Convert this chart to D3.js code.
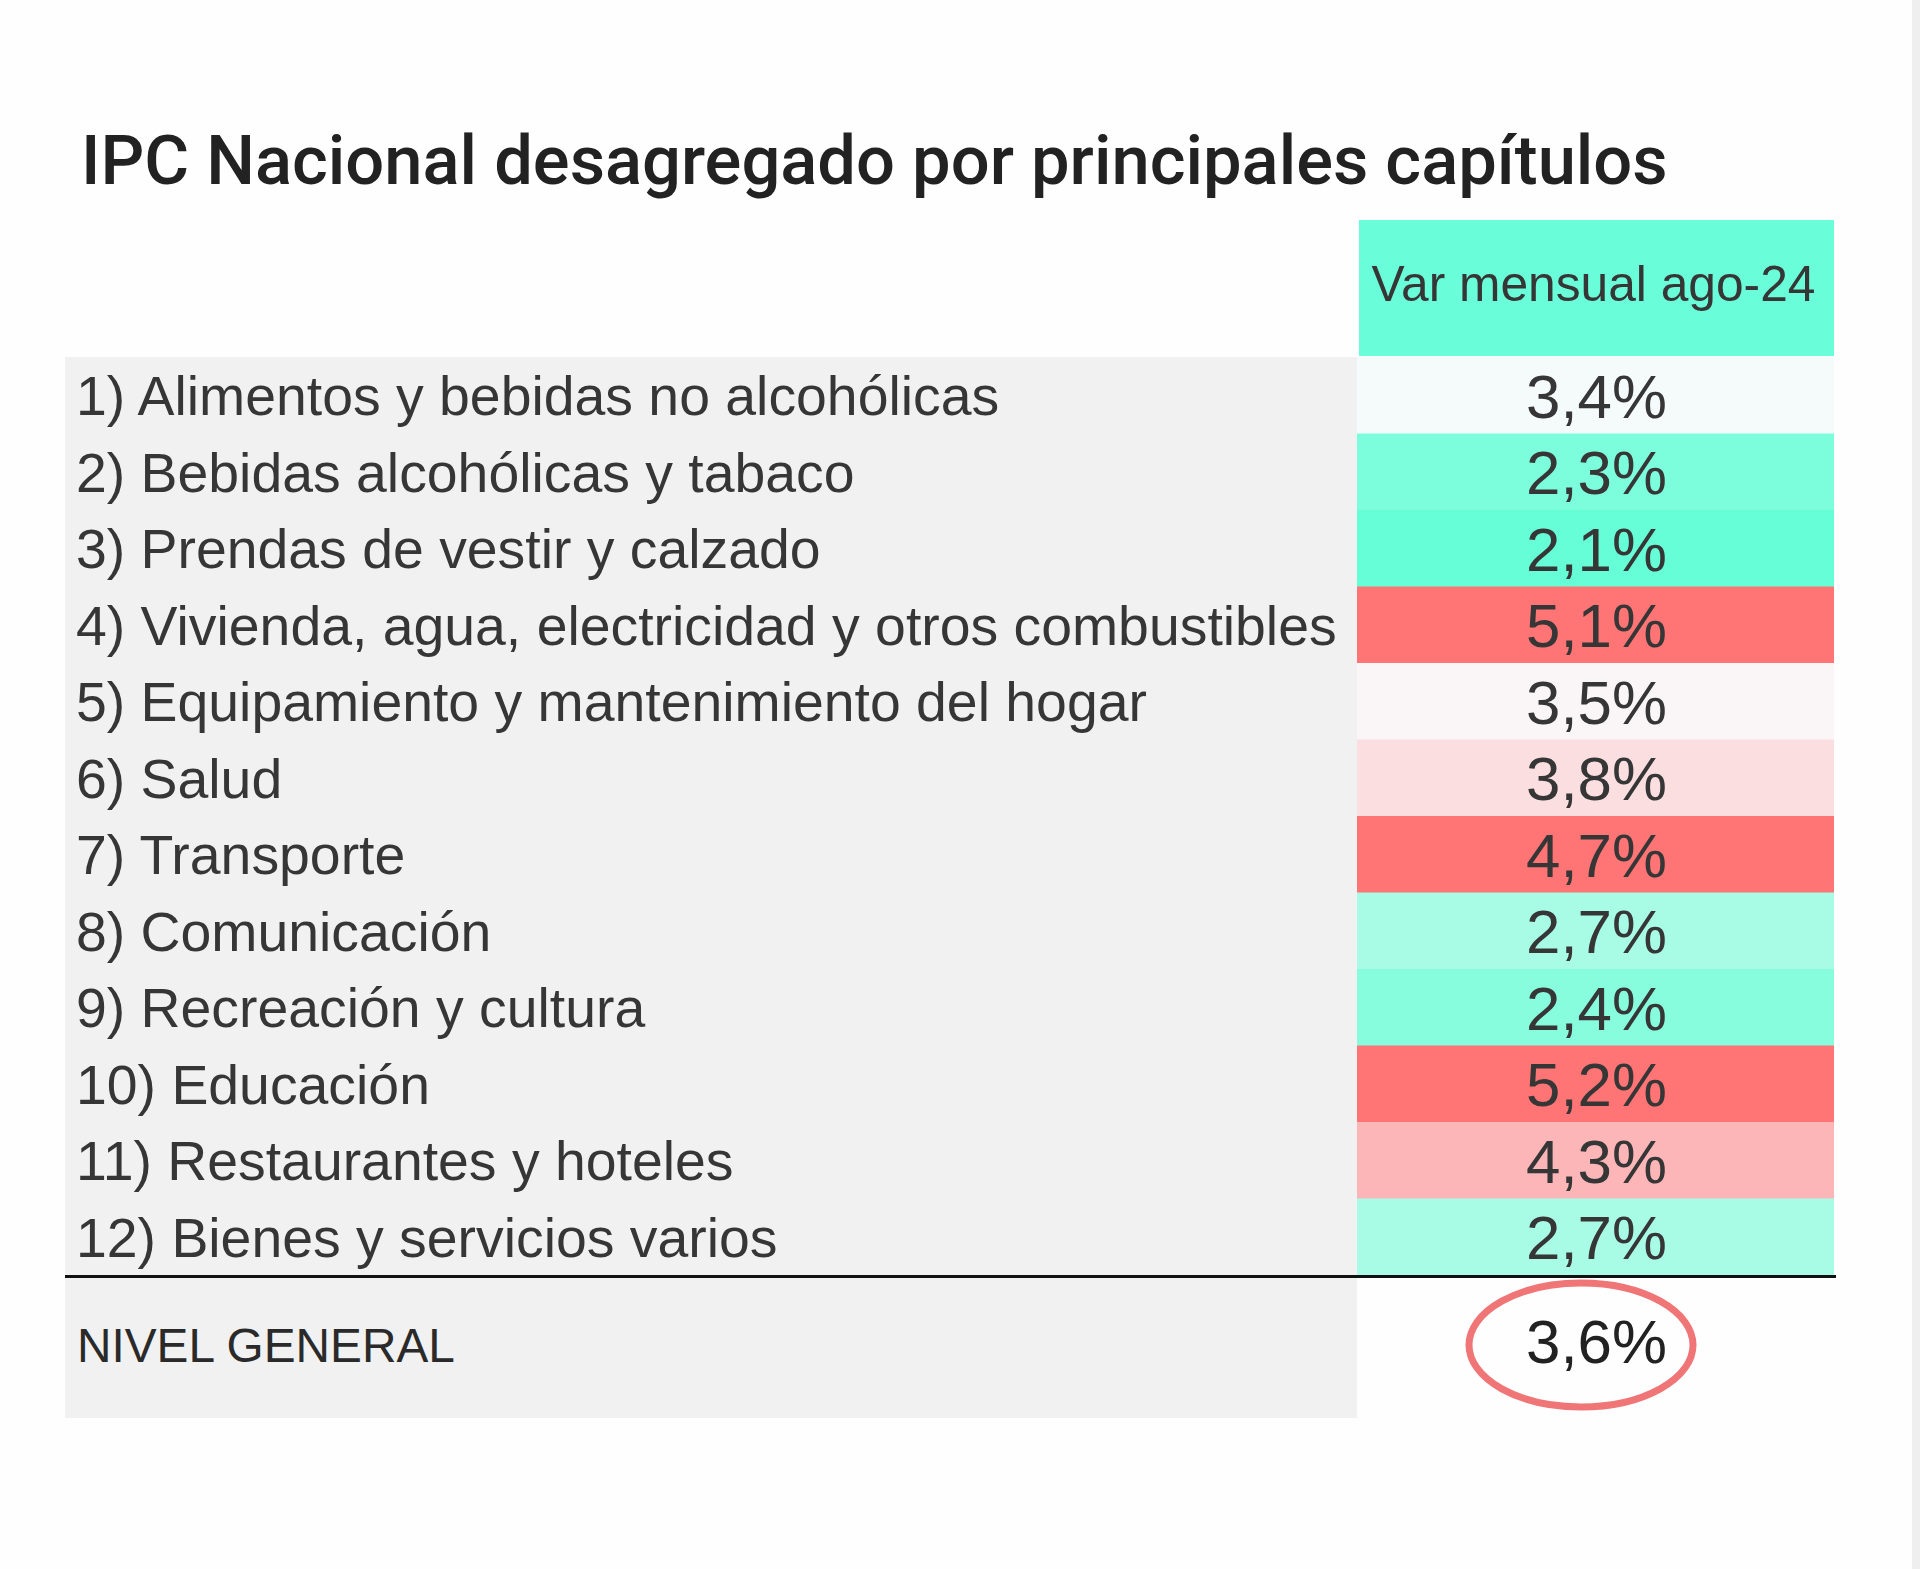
<!DOCTYPE html>
<html><head><meta charset="utf-8">
<script src="https://cdnjs.cloudflare.com/ajax/libs/d3/7.8.5/d3.min.js"></script>
<style>html,body{margin:0;padding:0;background:#fefefe;}svg{display:block;}</style>
</head><body>
<script>
const title = "IPC Nacional desagregado por principales capítulos";
const columnHeader = "Var mensual ago-24";
const categories = [
  "1) Alimentos y bebidas no alcohólicas",
  "2) Bebidas alcohólicas y tabaco",
  "3) Prendas de vestir y calzado",
  "4) Vivienda, agua, electricidad y otros combustibles",
  "5) Equipamiento y mantenimiento del hogar",
  "6) Salud",
  "7) Transporte",
  "8) Comunicación",
  "9) Recreación y cultura",
  "10) Educación",
  "11) Restaurantes y hoteles",
  "12) Bienes y servicios varios"
];
const values = [3.4, 2.3, 2.1, 5.1, 3.5, 3.8, 4.7, 2.7, 2.4, 5.2, 4.3, 2.7];
const totalLabel = "NIVEL GENERAL";
const totalValue = 3.6;

const W = 1920, H = 1569;
const svg = d3.select("body").append("svg").attr("width", W).attr("height", H);
svg.append("rect").attr("width", W).attr("height", H).attr("fill", "#fefefe");
svg.append("rect").attr("x", 1912).attr("y", 0).attr("width", 8).attr("height", H).attr("fill", "#efefef");

const fmt = v => d3.format(".1f")(v).replace(".", ",") + "%";
const textColor = "#363636";

// layout
const leftX = 65, labelColRight = 1357, valColLeft = 1357, valColRight = 1834;
const rowsTop = 357, rowsBottom = 1275;
const y = d3.scaleBand().domain(categories).range([rowsTop, rowsBottom]).padding(0);
const xCenter = (valColLeft + valColRight) / 2 + 1;

const med = d3.median(values);
const color = d3.scaleLinear()
  .domain([d3.min(values), med, 4.3, 4.7])
  .range(["#66fed6", "#fafafb", "#fcb6b8", "#ff7474"])
  .clamp(true);

function fit(sel, target) {
  const node = sel.node();
  const fs = parseFloat(sel.attr("font-size"));
  const w = node.getComputedTextLength();
  sel.attr("font-size", fs * target / w);
  return fs * target / w;
}

// title
const t = svg.append("text").attr("x", 81).attr("y", 184)
  .attr("font-family", "Roboto, 'Liberation Sans', sans-serif").attr("font-weight", 500)
  .attr("font-size", 60).attr("fill", "#222").text(title);
fit(t, 1587);

// header cell
svg.append("rect").attr("x", 1359).attr("y", 220).attr("width", valColRight - 1359).attr("height", 136).attr("fill", "#69fed9");
const ht = svg.append("text").attr("x", xCenter - 3).attr("y", 301).attr("text-anchor", "middle")
  .attr("font-family", "'Liberation Sans', Arial, sans-serif").attr("font-size", 40).attr("fill", textColor).text(columnHeader);
fit(ht, 444);

// grey label panel
svg.append("rect").attr("x", leftX).attr("y", rowsTop).attr("width", labelColRight - leftX).attr("height", 1418 - rowsTop).attr("fill", "#f1f1f1");

// value cells
svg.selectAll("rect.cell").data(values).join("rect").attr("class", "cell")
  .attr("x", valColLeft).attr("y", (d, i) => y(categories[i]))
  .attr("width", valColRight - valColLeft).attr("height", y.bandwidth() + 0.5)
  .attr("fill", d => color(d));

// labels
const labels = svg.selectAll("text.lab").data(categories).join("text").attr("class", "lab")
  .attr("x", 76).attr("font-family", "'Liberation Sans', Arial, sans-serif")
  .attr("font-size", 50).attr("fill", textColor).text(d => d);
const longest = labels.filter((d, i) => i === 3);
const lfs = fit(longest, 1261);
labels.attr("font-size", lfs).attr("y", d => y(d) + y.bandwidth() / 2 + lfs * 0.36);

const vals = svg.selectAll("text.val").data(values).join("text").attr("class", "val")
  .attr("x", xCenter).attr("text-anchor", "middle")
  .attr("font-family", "'Liberation Sans', Arial, sans-serif")
  .attr("font-size", 50).attr("fill", textColor).text(d => fmt(d));
const vfs = fit(vals.filter((d, i) => i === 0), 141);
vals.attr("font-size", vfs).attr("y", (d, i) => y(categories[i]) + y.bandwidth() / 2 + vfs * 0.36);

// black rule
svg.append("line").attr("x1", leftX).attr("x2", valColRight + 2).attr("y1", rowsBottom + 1.5).attr("y2", rowsBottom + 1.5)
  .attr("stroke", "#111").attr("stroke-width", 3);

// total row
const nt = svg.append("text").attr("x", 77).attr("y", 1362)
  .attr("font-family", "'Liberation Sans', Arial, sans-serif").attr("font-size", 40)
  .attr("fill", "#2a2a2a").text(totalLabel);
fit(nt, 378);
const tv = svg.append("text").attr("x", xCenter).attr("y", 1363).attr("text-anchor", "middle")
  .attr("font-family", "'Liberation Sans', Arial, sans-serif").attr("font-size", vfs)
  .attr("fill", "#222").text(fmt(totalValue));
fit(tv, 141);
svg.append("ellipse").attr("cx", 1581).attr("cy", 1345).attr("rx", 112).attr("ry", 62)
  .attr("fill", "none").attr("stroke", "#f07576").attr("stroke-width", 7);
</script>
</body></html>
